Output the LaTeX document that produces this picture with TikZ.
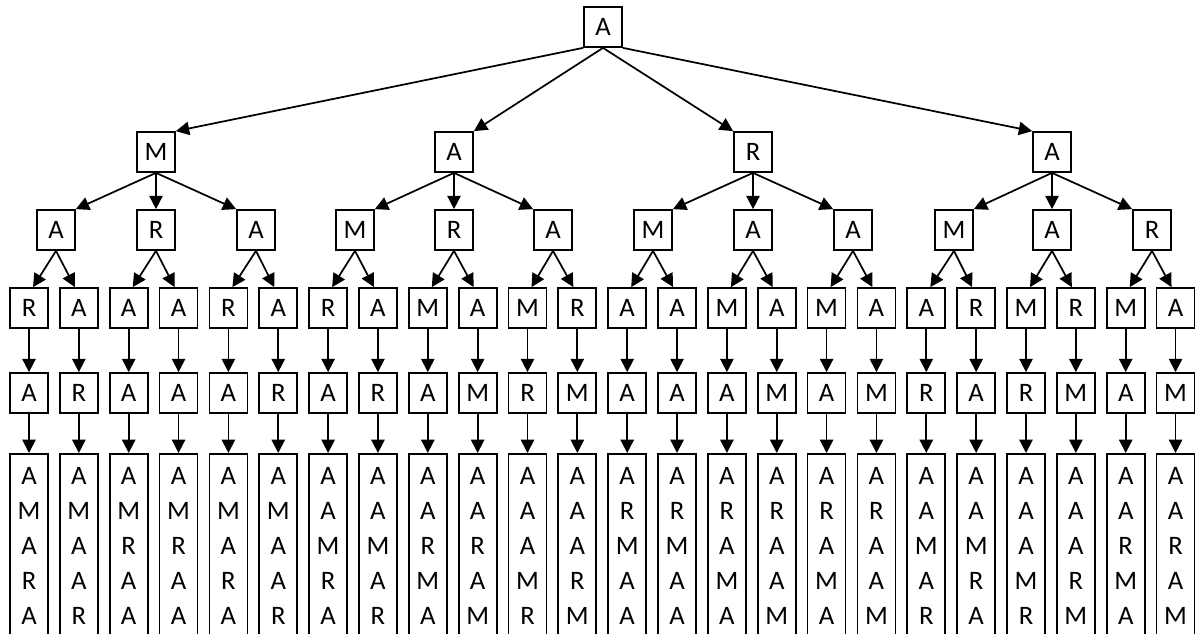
\documentclass[tikz,border=0pt]{standalone}
\usepackage{fontspec}
\setmainfont{Carlito}
\usetikzlibrary{arrows.meta,calc}

% five letters stacked in one column
\def\stack#1#2#3#4#5{#1\\#2\\#3\\#4\\#5}

\tikzset{
  box/.style={draw, line width=1.3pt, minimum width=28.5pt, minimum height=30pt,
    inner sep=0pt, font=\fontsize{20}{26.25}\selectfont},
  tallbox/.style={draw, line width=1.3pt, minimum width=28.5pt, anchor=north,
    align=center, inner xsep=0pt, inner ysep=10pt,
    font=\fontsize{20}{26.25}\selectfont},
  link/.style={line width=1.3pt, -{Triangle[length=10pt,width=10pt]}},
}

\begin{document}
\begin{tikzpicture}[x=0.75pt,y=-0.75pt]
\useasboundingbox (0,0) rectangle (1199,633);
\clip (0,0) rectangle (1199,633);

% root
\node[box] (r) at (603,27) {A};

% second level
\node[box] (b0) at (156,152) {M};
\node[box] (b1) at (454,152) {A};
\node[box] (b2) at (753,152) {R};
\node[box] (b3) at (1052,152) {A};
\draw[link] (r.south west) -- (b0.north east);
\draw[link] (r.south) -- (b1.north east);
\draw[link] (r.south) -- (b2.north west);
\draw[link] (r.south east) -- (b3.north west);

% third level
\foreach \x/\t [count=\j from 0] in {56/A,156/R,256/A,355/M,454/R,553/A,
                                     653/M,753/A,853/A,954/M,1052/A,1152/R}{
  \node[box] (c\j) at (\x,230) {\t};
  \pgfmathtruncatemacro\k{int(\j/3)}
  \pgfmathtruncatemacro\m{mod(\j,3)}
  \ifcase\m
    \draw[link] (b\k.south) -- (c\j.north east);
  \or
    \draw[link] (b\k.south) -- (c\j.north);
  \else
    \draw[link] (b\k.south) -- (c\j.north west);
  \fi
}

% fourth, fifth and sixth levels
\foreach \p/\q/\s [count=\i from 0] in {
    R/A/AMARA, A/R/AMAAR, A/A/AMRAA, A/A/AMRAA, R/A/AMARA, A/R/AMAAR,
    R/A/AAMRA, A/R/AAMAR, M/A/AARMA, A/M/AARAM, M/R/AAAMR, R/M/AAARM,
    A/A/ARMAA, A/A/ARMAA, M/A/ARAMA, A/M/ARAAM, M/A/ARAMA, A/M/ARAAM,
    A/R/AAMAR, R/A/AAMRA, M/R/AAAMR, R/M/AAARM, M/A/AARMA, A/M/AARAM}{
  \pgfmathsetmacro\x{29+49.85*\i}
  \pgfmathtruncatemacro\j{int(\i/2)}
  \pgfmathsetmacro\off{ifthenelse(mod(\i,2)==0,4,-4)}
  \node[box] (d\i) at (\x,308) {\p};
  \node[box] (e\i) at (\x,393) {\q};
  \node[tallbox] (f\i) at (\x,453) {\expandafter\stack\s};
  \draw[link] (c\j.south) -- ($(d\i.north)+(\off,0)$);
  \draw[link] (d\i.south) -- (e\i.north);
  \draw[link] (e\i.south) -- (f\i.north);
}
\end{tikzpicture}
\end{document}
